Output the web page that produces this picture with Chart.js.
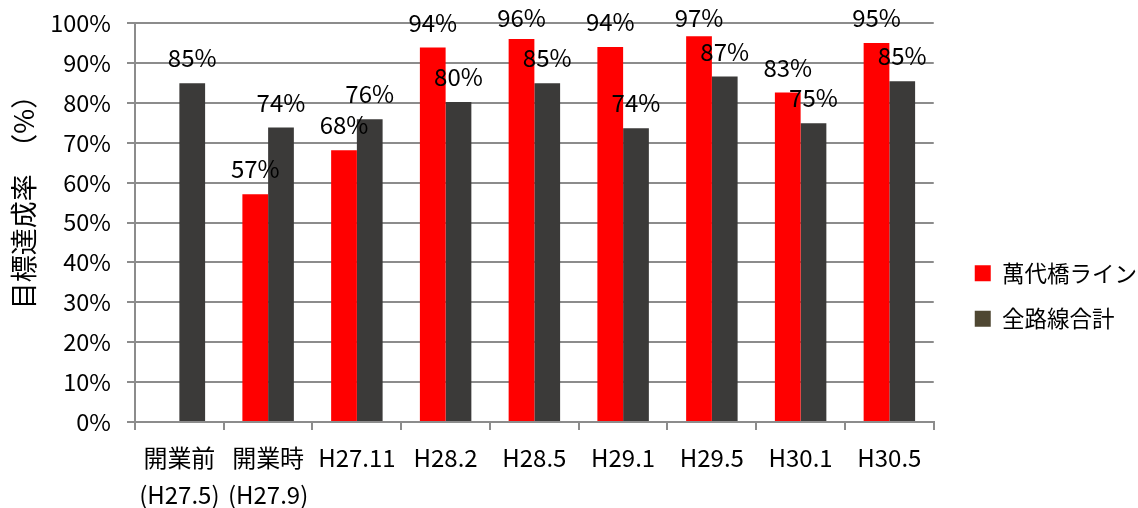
<!DOCTYPE html>
<html>
<head>
<meta charset="utf-8">
<script src="https://cdn.jsdelivr.net/npm/chart.js@4.4.1/dist/chart.umd.min.js"></script>
<style>
  html, body { margin: 0; padding: 0; background: #fff; }
  #wrap { width: 1138px; height: 508px; }
</style>
</head>
<body>
<div id="wrap"><canvas id="chart"></canvas></div>
<script>
// データ（%）
const categories = [
    ['開業前', '(H27.5)'], ['開業時', '(H27.9)'], 'H27.11', 'H28.2', 'H28.5',
    'H29.1', 'H29.5', 'H30.1', 'H30.5'
];
const bandaiLine = [null, 57.1, 68.1, 93.9, 96.0, 94.0, 96.7, 82.6, 95.0];
const allLines = [84.9, 73.8, 75.9, 80.2, 84.9, 73.6, 86.6, 74.9, 85.4];
const seriesNames = ['萬代橋ライン', '全路線合計'];
const yTicks = [0, 10, 20, 30, 40, 50, 60, 70, 80, 90, 100];

const FONT = '"Noto Sans CJK JP", "Noto Sans", sans-serif';

// 棒の上に値を表示（上端ははみ出さないように）
const valueLabels = {
    id: 'valueLabels',
    afterDatasetsDraw(chart) {
        const ctx = chart.ctx;
        ctx.save();
        ctx.font = '24px ' + FONT;
        ctx.fillStyle = '#000';
        ctx.textAlign = 'center';
        ctx.textBaseline = 'middle';
        chart.data.datasets.forEach((ds, di) => {
            const meta = chart.getDatasetMeta(di);
            meta.data.forEach((bar, i) => {
                const v = ds.data[i];
                if (v === null || v === undefined) return;
                ctx.fillText(Math.round(v) + '%', bar.x, Math.max(bar.y - 25, 18));
            });
        });
        ctx.restore();
    }
};

// 凡例を少し右へ
const shiftLegend = {
    id: 'shiftLegend',
    afterLayout(chart) {
        if (!chart.legend) return;
        chart.legend.left += 18;
        chart.legend.right += 18;
    }
};

const ctx = document.getElementById('chart').getContext('2d');
const chart = new Chart(ctx, {
    type: 'bar',
    data: {
        labels: categories,
        datasets: [{
            label: seriesNames[0],
            data: bandaiLine,
            backgroundColor: '#ff0000',
            borderWidth: 0
        }, {
            label: seriesNames[1],
            data: allLines,
            backgroundColor: '#3b3a39',
            borderWidth: 0
        }]
    },
    options: {
        responsive: true,
        maintainAspectRatio: false,
        animation: false,
        categoryPercentage: 0.58,
        barPercentage: 1.0,
        layout: { padding: { top: 0, right: 9, bottom: 0, left: 0 } },
        plugins: {
            tooltip: { enabled: false },
            legend: {
                position: 'right',
                title: { display: true, text: '', padding: { top: 83, bottom: 0 }, font: { size: 1 } },
                labels: {
                    boxWidth: 16,
                    boxHeight: 16,
                    padding: 23,
                    color: '#000',
                    font: { family: FONT, size: 22.5 },
                    generateLabels(chart) {
                        const items = Chart.defaults.plugins.legend.labels.generateLabels(chart);
                        items[0].fillStyle = '#ff0000';
                        items[1].fillStyle = '#4f4732';
                        items.forEach(it => { it.lineWidth = 0; it.strokeStyle = 'rgba(0,0,0,0)'; });
                        return items;
                    }
                }
            }
        },
        scales: {
            x: {
                grid: {
                    display: true,
                    drawOnChartArea: false,
                    drawTicks: true,
                    tickLength: 8,
                    color: '#8c8c8c',
                    lineWidth: 2
                },
                border: { color: '#8c8c8c', width: 2 },
                ticks: {
                    color: '#000',
                    padding: 9,
                    maxRotation: 0,
                    autoSkip: false,
                    font: { family: FONT, size: 24, lineHeight: 1.55 }
                },
                afterFit(scale) { scale.height = 86; }
            },
            y: {
                min: 0,
                max: 100,
                afterBuildTicks(scale) { scale.ticks = yTicks.map(v => ({ value: v })); },
                grid: { color: '#8c8c8c', lineWidth: 2, tickLength: 8 },
                border: { color: '#8c8c8c', width: 2 },
                ticks: {
                    color: '#000',
                    padding: 16,
                    font: { family: FONT, size: 23.5, lineHeight: 0.6 },
                    callback: v => v + '%'
                },
                title: {
                    display: true,
                    text: '　　目標達成率　（%）',
                    color: '#000',
                    font: { family: FONT, size: 27 },
                    padding: { top: 8, bottom: 0 }
                },
                afterFit(scale) { scale.width = 135; }
            }
        }
    },
    plugins: [valueLabels, shiftLegend]
});
</script>
</body>
</html>
